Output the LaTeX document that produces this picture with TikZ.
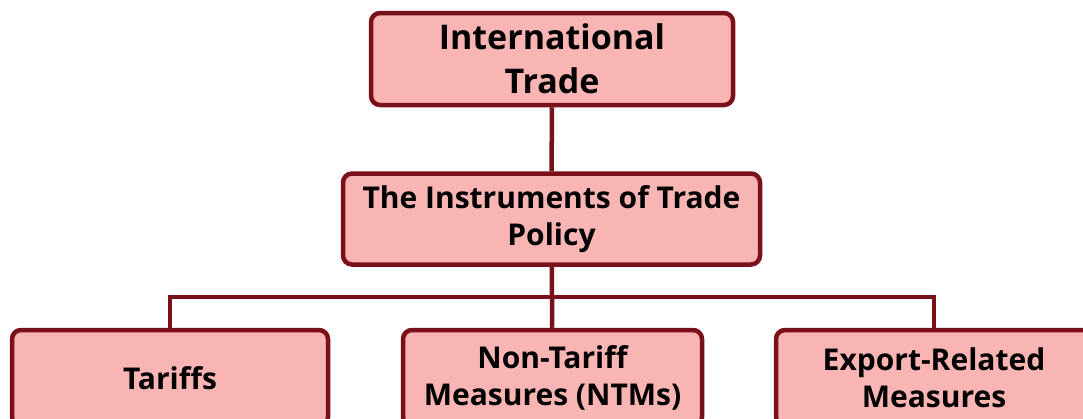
\documentclass[tikz,border=0pt]{standalone}
\usepackage{fontspec}
\setmainfont{Open Sans}
\usepackage{tikz}
\definecolor{boxfill}{HTML}{F9B4B4}
\definecolor{boxline}{HTML}{7A1019}
\tikzset{
  box/.style={draw=boxline, fill=boxfill, line width=4.5pt, rounded corners=9pt,
    align=center, inner sep=0pt, font=\bfseries\fontsize{30}{37}\selectfont},
  link/.style={draw=boxline, line width=4.5pt}
}

\begin{document}
\begin{tikzpicture}[x=1pt,y=-1pt]
  \clip (0,0) rectangle (1083,418);
  \useasboundingbox (0,0) rectangle (1083,418);
  \node[box, minimum width=362pt, minimum height=92pt,
    font=\bfseries\fontsize{34}{44}\selectfont] (trade) at (552,59) {International\\Trade};
  \node[box, minimum width=417pt, minimum height=91pt] (policy) at (551.5,219) {The Instruments of Trade\\Policy};
  \node[box, minimum width=316pt, minimum height=96pt] (tariffs) at (170,378) {Tariffs};
  \node[box, minimum width=299pt, minimum height=96pt] (ntm) at (552.5,378) {Non-Tariff\\Measures (NTMs)};
  \node[box, minimum width=316pt, minimum height=96pt] (export) at (934,378) {Export-Related\\Measures};
  \coordinate (bus) at (552,297);
  \draw[link] (trade) -- (policy);
  \draw[link] (policy) -- (bus);
  \draw[link] (bus) -| (tariffs);
  \draw[link] (bus) -- (ntm);
  \draw[link] (bus) -| (export);
\end{tikzpicture}
\end{document}
